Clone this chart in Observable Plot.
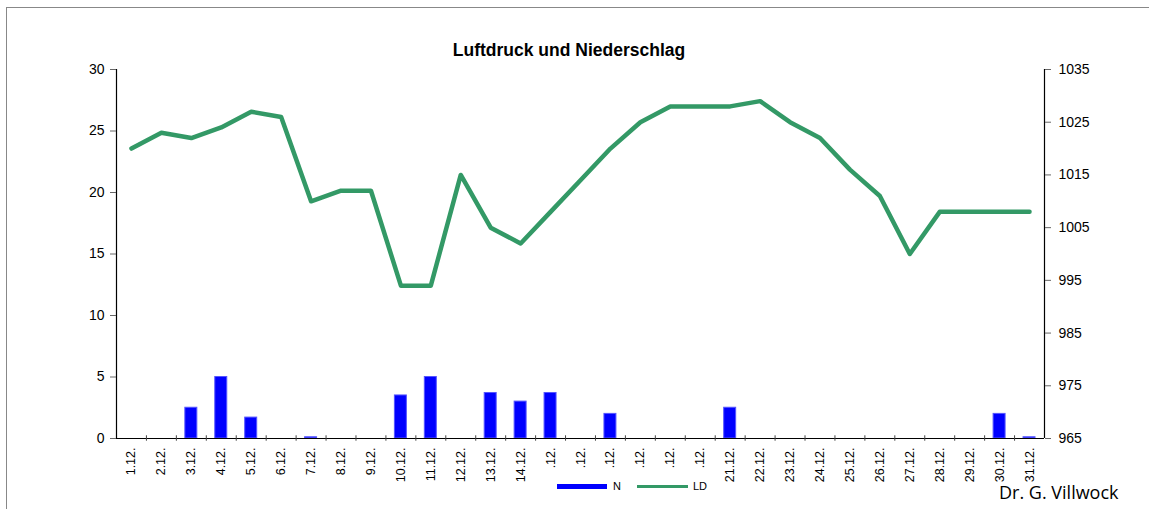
<!DOCTYPE html>
<html>
<head>
<meta charset="utf-8">
<script src="https://cdn.jsdelivr.net/npm/d3@7"></script>
<script src="https://cdn.jsdelivr.net/npm/@observablehq/plot@0.6"></script>
<style>
  html, body { margin: 0; padding: 0; background: #fff; }
  #wrap { position: relative; width: 1149px; height: 509px; overflow: hidden; font-family: "Liberation Sans", Arial, sans-serif; }
  #frame { position: absolute; left: 6px; top: 7px; width: 1160px; height: 520px; border-top: 1px solid #888; border-left: 1px solid #888; }
  #title { position: absolute; left: 0; width: 1138px; top: 40px; text-align: center; font-weight: bold; font-size: 17.5px; color: #000; }
  #chart { position: absolute; left: 0; top: 0; }
  .leg { position: absolute; font-size: 11px; color: #000; }
  #credit { position: absolute; left: 999px; top: 480px; font-family: "Open Sans", "Noto Sans", sans-serif; font-size: 18px; color: #000; }
</style>
</head>
<body>
<div id="wrap">
  <div id="chart"></div>
  <div id="frame"></div>
  <div id="title">Luftdruck und Niederschlag</div>
  <div class="leg" style="left:557px; top:484px; width:50px; height:5px; background:#0000ff;"></div>
  <div class="leg" style="left:613px; top:480px;">N</div>
  <div class="leg" style="left:637px; top:485px; width:51px; height:3px; background:#339966;"></div>
  <div class="leg" style="left:693px; top:480px;">LD</div>
  <div id="credit">Dr. G. Villwock</div>
</div>
<script>
const tage = ["1.12.","2.12.","3.12.","4.12.","5.12.","6.12.","7.12.","8.12.","9.12.","10.12.",
  "11.12.","12.12.","13.12.","14.12.",".12.",".12.",".12.",".12.",".12.",".12.",
  "21.12.","22.12.","23.12.","24.12.","25.12.","26.12.","27.12.","28.12.","29.12.","30.12.","31.12."];
const niederschlag = [0,0,2.5,5,1.7,0,0.1,0,0,3.5,5,0,3.7,3.0,3.7,0,2.0,0,0,0,2.5,0,0,0,0,0,0,0,0,2.0,0.1];
const luftdruck = [1020,1023,1022,1024,1027,1026,1010,1012,1012,994,994,1015,1005,1002,1008,1014,1020,1025,1028,1028,1028,1029,1025,1022,1016,1011,1000,1008,1008,1008,1008];
const ticksLinks = [0,5,10,15,20,25,30];
const ticksRechts = [965,975,985,995,1005,1015,1025,1035];

// map pressure onto the precipitation scale (two axes share the plot)
const p2y = d3.scaleLinear().domain([965, 1035]).range([0, 30]);

const rows = tage.map((t, i) => ({i: i + 1, tag: t, n: niederschlag[i], ld: luftdruck[i]}));
const grenzen = d3.range(1.5, 31.5, 1);

const plot = Plot.plot({
  width: 1149,
  height: 509,
  marginLeft: 116,
  marginRight: 105,
  marginTop: 69,
  marginBottom: 71,
  style: {fontFamily: "'Liberation Sans', Arial, sans-serif", background: "transparent", color: "#000"},
  x: {domain: [0.5, 31.5]},
  y: {domain: [0, 30]},
  marks: [
    Plot.rectY(rows, {x1: d => d.i - 0.2, x2: d => d.i + 0.2, y: "n", fill: "#0000ff", stroke: "#5555ff", strokeWidth: 1}),
    Plot.line(rows, {x: "i", y: d => p2y(d.ld), stroke: "#339966", strokeWidth: 4.5, strokeLinejoin: "round", strokeLinecap: "round"}),
    Plot.ruleY([0], {stroke: "#000", strokeWidth: 1.2}),
    Plot.ruleX([0.5, 31.5], {stroke: "#000", strokeWidth: 1.2}),
    Plot.axisY(ticksLinks, {anchor: "left", tickSize: 6, tickPadding: 6, fontSize: 14, stroke: "#666", label: null}),
    Plot.axisY(ticksRechts.map(p2y), {anchor: "right", tickSize: 6, tickPadding: 8, fontSize: 14, stroke: "#666", label: null,
      tickFormat: d => String(Math.round(p2y.invert(d)))}),
    Plot.ruleX(grenzen, {x: d => d, y1: -0.22, y2: 0.22, stroke: "#444"}),
    Plot.axisX(rows.map(d => d.i), {anchor: "bottom", tickSize: 0, tickPadding: 9, tickRotate: -90, fontSize: 12.5, label: null,
      tickFormat: d => tage[d - 1]})
  ]
});
document.getElementById("chart").appendChild(plot);
</script>
</body>
</html>
